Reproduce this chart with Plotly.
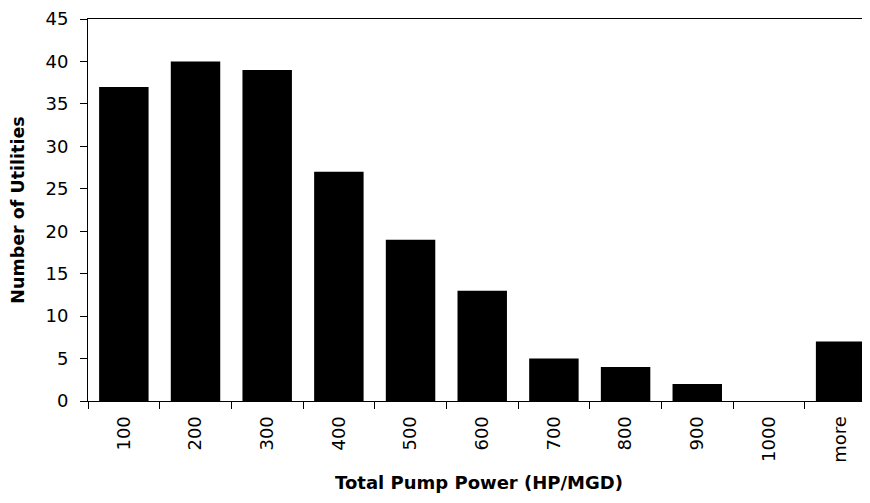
"""Histogram of total pump power per utility"""
import plotly.graph_objects as go

CATEGORIES = ["100", "200", "300", "400", "500", "600", "700", "800", "900", "1000", "more"]
UTILITIES = [37, 40, 39, 27, 19, 13, 5, 4, 2, 0, 7]

FONT = "DejaVu Sans, Arial, sans-serif"

# the page adds an 8px body margin, so the figure is 8px smaller than the window
fig = go.Figure(
    data=[
        go.Bar(
            x=CATEGORIES,
            y=UTILITIES,
            width=0.69,
            marker=dict(color="black", line=dict(width=0)),
        )
    ]
)

fig.update_layout(
    width=862,
    height=495,
    margin=dict(l=80, r=0, t=7, b=102),
    plot_bgcolor="white",
    paper_bgcolor="white",
    showlegend=False,
    font=dict(family=FONT, color="black"),
    xaxis=dict(
        type="category",
        range=[-0.5, 10.41],
        tickson="boundaries",
        ticks="outside",
        ticklen=7,
        tickcolor="black",
        tickangle=-90,
        tickfont=dict(size=18),
        ticklabelstandoff=7,
        showline=True,
        linecolor="black",
        linewidth=1,
        mirror=True,
        showgrid=False,
        title=dict(text="<b>Total Pump Power (HP/MGD)</b>", font=dict(size=18), standoff=14),
    ),
    yaxis=dict(
        range=[0, 45],
        dtick=5,
        ticks="outside",
        ticklen=7,
        tickcolor="black",
        tickfont=dict(size=18),
        ticklabelstandoff=8,
        ticklabeloverflow="allow",
        showline=True,
        linecolor="black",
        linewidth=1,
        showgrid=False,
        zeroline=False,
        title=dict(text="<b>Number of Utilities</b>", font=dict(size=17.5), standoff=16),
    ),
)

fig.write_html("out.html")
